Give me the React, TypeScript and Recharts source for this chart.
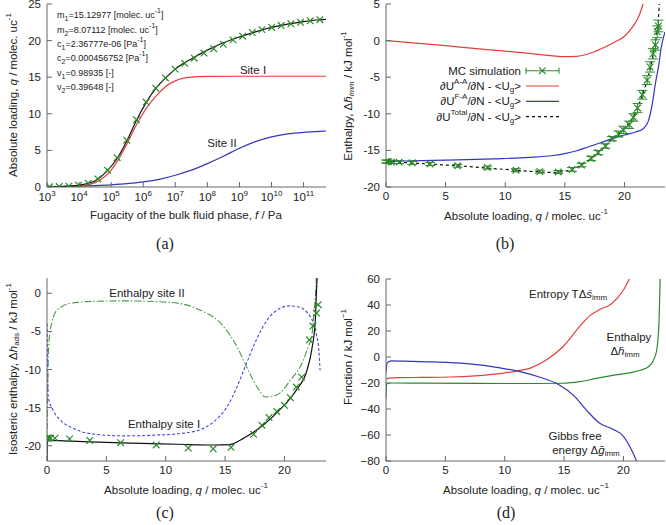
import React from 'react';
import { ComposedChart, Line, Scatter, XAxis, YAxis, ErrorBar } from 'recharts';

const FONT = '"Liberation Sans", Arial, sans-serif';
const SERIF = '"Liberation Serif", "DejaVu Serif", serif';
const RED = '#e4403c';
const BLUE = '#3434c4';
const GREEN = '#2a8a2a';
const GREEN2 = '#4a9a4a';
const BLUE2 = '#4848e0';
const INK = '#222';
const FRAME = '#666';

// (a) isotherm, fugacity in Pa
const A_TICKS = [1e3, 1e4, 1e5, 1e6, 1e7, 1e8, 1e9, 1e10, 1e11];
const A_SIM_F = [1.2e3, 2.4e3, 4.8e3, 9.6e3, 1.92e4, 3.84e4, 7.7e4, 1.54e5, 3.07e5, 6.14e5, 1.23e6, 2.46e6, 4.92e6, 9.83e6, 1.97e7, 3.93e7, 7.86e7, 1.57e8, 3.15e8, 6.29e8, 1.26e9, 2.52e9, 5.03e9, 1.01e10, 2.01e10, 4.03e10, 8.05e10, 1.61e11, 3.22e11];
const A_SIM_Q = [0.03, 0.06, 0.12, 0.25, 0.5, 1.1, 2.3, 4.0, 6.4, 9.2, 11.6, 13.5, 14.9, 16.1, 16.9, 17.6, 18.3, 18.9, 19.5, 20.1, 20.6, 21.1, 21.5, 21.8, 22.05, 22.3, 22.5, 22.7, 22.85];
const A_FIT_F = [1e3, 3.16e3, 1e4, 3.16e4, 7.9e4, 1.58e5, 3.16e5, 6.3e5, 1.26e6, 2.5e6, 5e6, 1e7, 3.16e7, 1e8, 3.16e8, 1e9, 3.16e9, 1e10, 3.16e10, 1e11, 3.16e11, 5e11];
const A_FIT_Q = [0.02, 0.07, 0.25, 0.85, 2.3, 4.0, 6.4, 9.2, 11.6, 13.5, 14.9, 16.1, 17.5, 18.7, 19.7, 20.5, 21.2, 21.8, 22.25, 22.6, 22.85, 22.9];
const A_S1_F = [1e3, 1e4, 3.16e4, 1e5, 1.78e5, 3.16e5, 5.6e5, 1e6, 1.78e6, 3.16e6, 5.6e6, 1e7, 3.16e7, 1e8, 1e9, 5e11];
const A_S1_Q = [0.0, 0.12, 0.6, 2.3, 3.95, 5.95, 8.15, 10.1, 11.65, 12.9, 13.9, 14.5, 15.0, 15.1, 15.13, 15.13];
const A_S2_F = [1e3, 3.16e3, 1e4, 3.16e4, 1e5, 3.16e5, 1e6, 3.16e6, 1e7, 3.16e7, 1e8, 3.16e8, 1e9, 3.16e9, 1e10, 3.16e10, 1e11, 3.16e11, 5e11];
const A_S2_Q = [0.05, 0.08, 0.13, 0.2, 0.3, 0.45, 0.7, 1.05, 1.6, 2.3, 3.2, 4.2, 5.3, 6.2, 6.85, 7.25, 7.47, 7.6, 7.65];

// (b) immersion enthalpy vs loading
const B_SIM_Q = [0.02, 0.08, 0.2, 0.45, 1.1, 2.2, 3.7, 6.0, 8.5, 10.9, 12.9, 14.45, 15.6, 16.4, 17.2, 17.8, 18.4, 18.95, 19.5, 19.9, 20.4, 20.75, 21.1, 21.5, 21.9, 22.15, 22.4, 22.6, 22.75, 22.85];
const B_SIM_H = [-16.5, -16.55, -16.55, -16.6, -16.6, -16.7, -16.85, -17.1, -17.35, -17.7, -17.9, -17.95, -17.6, -17.0, -16.1, -15.3, -14.4, -13.4, -12.75, -12.2, -11.5, -10.5, -9.2, -7.4, -5.4, -3.6, -1.8, -0.6, 1.2, 2.0];
const B_SIM_ERR = [0.2, 0.2, 0.2, 0.2, 0.2, 0.2, 0.2, 0.2, 0.2, 0.2, 0.2, 0.2, 0.25, 0.25, 0.3, 0.3, 0.3, 0.3, 0.4, 0.5, 0.5, 0.5, 0.6, 0.6, 0.6, 0.7, 0.7, 0.7, 0.8, 0.8];
const B_AA_Q = [0, 3, 6, 9, 12, 14, 15, 16, 17, 18, 19, 20, 20.7, 21.2, 21.6];
const B_AA_H = [0, -0.4, -0.85, -1.3, -1.75, -2.1, -2.2, -2.15, -1.8, -1.15, -0.35, 0.6, 1.9, 3.3, 5.2];
const B_FA_Q = [0, 3, 6, 9, 12, 14, 15, 16, 17, 18, 19, 20, 21, 21.6, 22, 22.3, 22.6, 22.85, 23.1, 23.4];
const B_FA_H = [-16.5, -16.4, -16.3, -16.15, -15.95, -15.7, -15.45, -15.05, -14.5, -13.95, -13.4, -12.9, -12.45, -12.0, -11.0, -9.0, -5.8, -3.6, -0.8, 1.2];
const B_TOT_Q = [0, 2, 4, 6, 8, 10, 12, 14, 15, 16, 17, 18, 19, 20, 21, 21.5, 22, 22.4, 22.7, 22.85, 22.95];
const B_TOT_H = [-16.5, -16.7, -16.9, -17.1, -17.35, -17.6, -17.85, -18.0, -17.85, -17.3, -16.35, -15.0, -13.4, -12.0, -9.6, -7.4, -4.9, -1.9, 0.9, 3.0, 6.0];

// (c) isosteric enthalpy
const C_SIM_Q = [0.0, 0.05, 0.15, 0.3, 0.67, 1.9, 3.6, 6.2, 9.2, 11.9, 14.0, 15.5, 17.4, 18.1, 18.7, 19.35, 20.0, 20.5, 21.0, 21.45, 22.1, 22.4, 22.7, 22.85];
const C_SIM_H = [-19.0, -19.0, -19.0, -19.0, -19.0, -19.1, -19.3, -19.6, -19.9, -20.3, -20.4, -20.2, -18.5, -17.3, -16.3, -15.5, -14.7, -13.7, -12.3, -11.0, -6.1, -4.3, -2.6, -1.5];
const C_TOT_Q = [0, 0.03, 0.3, 2, 5, 8, 11, 14, 15.4, 16, 16.8, 18.2, 19.6, 21, 21.9, 22.3, 22.6, 22.7, 22.75];
const C_TOT_H = [-22, -19.4, -19.3, -19.4, -19.55, -19.7, -19.8, -19.9, -19.85, -19.5, -18.8, -17.3, -15.3, -12.7, -10.1, -7.4, -3.5, 0.4, 2.2];
const C_S2_Q = [0, 0.1, 0.2, 0.4, 0.67, 1.1, 1.9, 3.3, 6.4, 9.2, 11.2, 12.9, 14.6, 16.0, 16.8, 17.7, 18.4, 19.35, 20.5, 21.6, 22.0, 22.3, 22.45, 22.6, 22.7];
const C_S2_H = [-19.5, -9, -5.7, -3.9, -2.6, -1.9, -1.35, -1.1, -1.0, -1.1, -1.35, -2.2, -3.9, -7.0, -9.6, -12.3, -13.6, -13.35, -11.4, -8.75, -7.0, -5.7, -3.1, -0.45, 2.2];
const C_S1_Q = [0.01, 0.1, 0.5, 1.1, 2.2, 3.6, 6.4, 9.2, 11.2, 12.9, 14.0, 15.2, 16.0, 16.8, 17.7, 18.5, 19.6, 20.4, 21.2, 21.9, 22.4, 22.7, 22.9, 23.0];
const C_S1_H = [-4, -13.6, -15.3, -16.6, -17.7, -18.4, -18.7, -18.6, -18.4, -17.9, -16.9, -14.8, -12.3, -9.2, -5.9, -3.6, -2.0, -1.65, -1.8, -2.5, -3.8, -5.5, -7.5, -10.1];

// (d) thermodynamic functions
const D_S_Q = [0, 0.3, 1.2, 3, 5.4, 7.5, 9.6, 11.0, 12.1, 13.5, 14.9, 16.3, 17.2, 18.0, 19.0, 20.0, 20.6];
const D_S_V = [-17, -16.2, -15.9, -15.7, -15.4, -14.5, -12.8, -10.8, -8.7, -2.3, 7.9, 23.3, 32.0, 36.5, 41.0, 51.5, 62];
const D_H_Q = [0, 0.05, 0.3, 3, 8, 12, 14.9, 16.3, 17.7, 19.1, 20.6, 21.5, 22.1, 22.5, 22.8, 23.0, 23.1];
const D_H_V = [-32, -21, -20, -20.1, -20.3, -20.4, -20.2, -19, -16.5, -14.2, -12, -10, -7.5, -3, 5, 28, 62];
const D_G_Q = [0, 0.1, 0.45, 2, 4, 6.8, 9.6, 11.3, 12.9, 14.6, 15.8, 16.9, 18.0, 19.1, 20.0, 20.6, 21.1, 21.3];
const D_G_V = [-12, -4.5, -3, -3.3, -3.8, -5.1, -8.3, -11.3, -15.4, -21.5, -29.5, -41, -51, -55.5, -61, -70, -80, -85];

const pts = (xs: number[], ys: number[]) => xs.map((x, i) => ({ x, y: ys[i] }));

const tickStyle = { fill: INK, fontSize: 11.5, fontFamily: FONT };

const Cross = (props: any) => {
  const { cx, cy } = props;
  if (cx == null || cy == null) return null;
  const s = 3.3;
  return (
    <path
      d={`M${cx - s},${cy - s}L${cx + s},${cy + s}M${cx - s},${cy + s}L${cx + s},${cy - s}`}
      stroke={GREEN}
      strokeWidth={1.2}
      fill="none"
    />
  );
};

const PowTick = (props: any) => {
  const { x, y, payload } = props;
  const e = Math.round(Math.log10(payload.value));
  return (
    <text x={x} y={y} dy={9} textAnchor="middle" fill={INK} fontSize={11.5} fontFamily={FONT}>
      10<tspan baselineShift="5" fontSize={8}>{e}</tspan>
    </text>
  );
};

// gnuplot-like box: inward ticks on all four sides
function frame(o: { xd: number[]; xt: number[]; yd: number[]; yt: number[]; log?: boolean; xTick?: any; fmt?: (v: number) => string }) {
  const scale = o.log ? 'log' : 'linear';
  return [
    <XAxis key="xb" xAxisId="b" dataKey="x" type="number" scale={scale} domain={o.xd} ticks={o.xt} interval={0}
      allowDataOverflow height={30} tickSize={-5} tickMargin={10} stroke={FRAME} tick={o.xTick ?? tickStyle} />,
    <XAxis key="xt" xAxisId="t" orientation="top" dataKey="x" type="number" scale={scale} domain={o.xd} ticks={o.xt}
      interval={0} allowDataOverflow height={0} tickSize={-5} tick={false} stroke={FRAME} />,
    <YAxis key="yl" yAxisId="l" type="number" domain={o.yd} ticks={o.yt} interval={0} allowDataOverflow width={30}
      tickSize={-5} tickMargin={11} stroke={FRAME} tick={tickStyle} tickFormatter={o.fmt} />,
    <YAxis key="yr" yAxisId="r" orientation="right" type="number" domain={o.yd} ticks={o.yt} interval={0}
      allowDataOverflow width={0} tickSize={-5} tick={false} stroke={FRAME} />,
  ];
}

const curve = (data: any[], color: string, dash?: string, w = 1.2) => (
  <Line xAxisId="b" yAxisId="l" data={data} dataKey="y" type="monotone" stroke={color} strokeWidth={w}
    strokeDasharray={dash} dot={false} activeDot={false} isAnimationActive={false} />
);

const PanelA = () => (
  <ComposedChart width={333} height={262} margin={{ top: 4, right: 7, bottom: 45, left: 17 }}>
    {frame({ xd: [1e3, 5e11], xt: A_TICKS, yd: [0, 25], yt: [0, 5, 10, 15, 20, 25], log: true, xTick: <PowTick /> })}
    {curve(pts(A_S2_F, A_S2_Q), BLUE)}
    {curve(pts(A_S1_F, A_S1_Q), RED)}
    {curve(pts(A_FIT_F, A_FIT_Q), '#111')}
    <Scatter xAxisId="b" yAxisId="l" data={pts(A_SIM_F, A_SIM_Q)} dataKey="y" shape={<Cross />} isAnimationActive={false} />
  </ComposedChart>
);

const PanelB = () => (
  <ComposedChart width={333} height={262} margin={{ top: 4, right: 1, bottom: 45, left: 23 }}>
    {frame({ xd: [0, 23.4], xt: [0, 5, 10, 15, 20], yd: [-20, 5], yt: [-20, -15, -10, -5, 0, 5] })}
    {curve(pts(B_AA_Q, B_AA_H), RED)}
    {curve(pts(B_FA_Q, B_FA_H), BLUE)}
    {curve(pts(B_TOT_Q, B_TOT_H), '#111', '3 3')}
    <Scatter xAxisId="b" yAxisId="l" data={B_SIM_Q.map((x, i) => ({ x, y: B_SIM_H[i], e: B_SIM_ERR[i] }))}
      dataKey="y" shape={<Cross />} isAnimationActive={false}>
      <ErrorBar dataKey="e" direction="y" width={5} stroke={GREEN} strokeWidth={1} />
    </Scatter>
  </ComposedChart>
);

const PanelC = () => (
  <ComposedChart width={333} height={263} margin={{ top: 16, right: 7, bottom: 34, left: 17 }}>
    {frame({ xd: [0, 23.5], xt: [0, 5, 10, 15, 20], yd: [-22, 2], yt: [-20, -15, -10, -5, 0] })}
    {curve(pts(C_S2_Q, C_S2_H), GREEN2, '7 2 1.5 2', 1.1)}
    {curve(pts(C_S1_Q, C_S1_H), BLUE2, '3 2', 1.1)}
    {curve(pts(C_TOT_Q, C_TOT_H), '#111')}
    <Scatter xAxisId="b" yAxisId="l" data={pts(C_SIM_Q, C_SIM_H)} dataKey="y" shape={<Cross />} isAnimationActive={false} />
  </ComposedChart>
);

const PanelD = () => (
  <ComposedChart width={333} height={263} margin={{ top: 17, right: 1, bottom: 34, left: 23 }}>
    {frame({ xd: [0, 23.5], xt: [0, 5, 10, 15, 20], yd: [-80, 60], yt: [-80, -60, -40, -20, 0, 20, 40, 60],
      fmt: (v) => String(v).replace('-', '\u2212') })}
    {curve(pts(D_S_Q, D_S_V), RED)}
    {curve(pts(D_H_Q, D_H_V), GREEN)}
    {curve(pts(D_G_Q, D_G_V), BLUE)}
  </ComposedChart>
);

const Sup = ({ t, s = 8 }: { t: string; s?: number }) => (
  <tspan baselineShift="5" fontSize={s}>{t}</tspan>
);
const Sub = ({ t, s = 8, it = false }: { t: string; s?: number; it?: boolean }) => (
  <tspan baselineShift="-3" fontSize={s} fontStyle={it ? 'italic' : undefined}>{t}</tspan>
);

const Txt = ({ x, y, children, anchor = 'middle', size = 11.5, rot = false, family = FONT }: any) => (
  <text
    x={rot ? 0 : x}
    y={rot ? 0 : y}
    transform={rot ? `translate(${x},${y}) rotate(-90)` : undefined}
    textAnchor={anchor}
    dominantBaseline="central"
    fontSize={size}
    fontFamily={family}
    fill={INK}
  >
    {children}
  </text>
);

const Overlay = () => (
  <svg width={666} height={525} style={{ position: 'absolute', left: 0, top: 0, pointerEvents: 'none' }}>
    {/* (a) */}
    <Txt x={13} y={95} rot>Absolute loading, <tspan fontStyle="italic">q</tspan> / molec. uc<Sup t="-1" /></Txt>
    <Txt x={186} y={215}>Fugacity of the bulk fluid phase, <tspan fontStyle="italic">f</tspan> / Pa</Txt>
    <Txt x={57} y={15} anchor="start" size={9}>m<Sub t="1" s={7} />=15.12977 [molec. uc<Sup t="-1" s={7} />]</Txt>
    <Txt x={57} y={30} anchor="start" size={9}>m<Sub t="2" s={7} />=8.07112 [molec. uc<Sup t="-1" s={7} />]</Txt>
    <Txt x={57} y={43.5} anchor="start" size={9}>c<Sub t="1" s={7} />=2.36777e-06 [Pa<Sup t="-1" s={7} />]</Txt>
    <Txt x={57} y={58} anchor="start" size={9}>c<Sub t="2" s={7} />=0.000456752 [Pa<Sup t="-1" s={7} />]</Txt>
    <Txt x={57} y={72.5} anchor="start" size={9}>ν<Sub t="1" s={7} />=0.98935 [-]</Txt>
    <Txt x={57} y={87} anchor="start" size={9}>ν<Sub t="2" s={7} />=0.39648 [-]</Txt>
    <Txt x={253} y={70}>Site I</Txt>
    <Txt x={222} y={143}>Site II</Txt>
    <Txt x={165} y={243} size={16} family={SERIF}>(a)</Txt>

    {/* (b) */}
    <Txt x={348} y={96} rot>Enthalpy, Δ<tspan fontStyle="italic">h̄</tspan><Sub t="imm" it /> / kJ mol<Sup t="-1" /></Txt>
    <Txt x={526} y={216}>Absolute loading, <tspan fontStyle="italic">q</tspan> / molec. uc<Sup t="-1" /></Txt>
    <Txt x={521} y={70.7} anchor="end">MC simulation</Txt>
    <Txt x={521} y={86} anchor="end">∂U<Sup t="A-A" />/∂N - &lt;U<Sub t="g" />&gt;</Txt>
    <Txt x={521} y={101.3} anchor="end">∂U<Sup t="F-A" />/∂N - &lt;U<Sub t="g" />&gt;</Txt>
    <Txt x={521} y={116.7} anchor="end">∂U<Sup t="Total" />/∂N - &lt;U<Sub t="g" />&gt;</Txt>
    <g stroke={GREEN} strokeWidth={1.1}>
      <line x1={526} y1={70.7} x2={559} y2={70.7} />
      <line x1={526} y1={67.7} x2={526} y2={73.7} />
      <line x1={559} y1={67.7} x2={559} y2={73.7} />
      <path d="M539,67.4L545.6,74M539,74L545.6,67.4" fill="none" />
    </g>
    <line x1={526} y1={86} x2={559} y2={86} stroke={RED} strokeWidth={1.2} />
    <line x1={526} y1={101.3} x2={559} y2={101.3} stroke={BLUE} strokeWidth={1.2} />
    <line x1={526} y1={116.7} x2={559} y2={116.7} stroke="#111" strokeWidth={1.2} strokeDasharray="3 3" />
    <Txt x={505} y={243} size={16} family={SERIF}>(b)</Txt>

    {/* (c) */}
    <Txt x={13} y={369} rot>Isosteric enthalpy, Δ<tspan fontStyle="italic">h</tspan><Sub t="ads" /> / kJ mol<Sup t="-1" /></Txt>
    <Txt x={186} y={490}>Absolute loading, <tspan fontStyle="italic">q</tspan> / molec. uc<Sup t="-1" /></Txt>
    <Txt x={147} y={293}>Enthalpy site II</Txt>
    <Txt x={164} y={424}>Enthalpy site I</Txt>
    <Txt x={165} y={512} size={16} family={SERIF}>(c)</Txt>

    {/* (d) */}
    <Txt x={348} y={357} rot>Function / kJ mol<Sup t="−1" /></Txt>
    <Txt x={526} y={490}>Absolute loading, <tspan fontStyle="italic">q</tspan> / molec. uc<Sup t="−1" /></Txt>
    <Txt x={529} y={294} anchor="start">Entropy TΔ<tspan fontStyle="italic">s̄</tspan><Sub t="imm" /></Txt>
    <Txt x={629} y={337}>Enthalpy</Txt>
    <Txt x={625} y={351}>Δ<tspan fontStyle="italic">h̄</tspan><Sub t="imm" /></Txt>
    <Txt x={575} y={436}>Gibbs free</Txt>
    <Txt x={586} y={450}>energy Δ<tspan fontStyle="italic">ḡ</tspan><Sub t="imm" /></Txt>
    <Txt x={506} y={512} size={16} family={SERIF}>(d)</Txt>
  </svg>
);

export default function App() {
  return (
    <div style={{ position: 'absolute', left: 0, top: 0, width: 666, height: 525, background: '#fff' }}>
      <div style={{ position: 'absolute', left: 0, top: 0 }}><PanelA /></div>
      <div style={{ position: 'absolute', left: 333, top: 0 }}><PanelB /></div>
      <div style={{ position: 'absolute', left: 0, top: 262 }}><PanelC /></div>
      <div style={{ position: 'absolute', left: 333, top: 262 }}><PanelD /></div>
      <Overlay />
    </div>
  );
}
